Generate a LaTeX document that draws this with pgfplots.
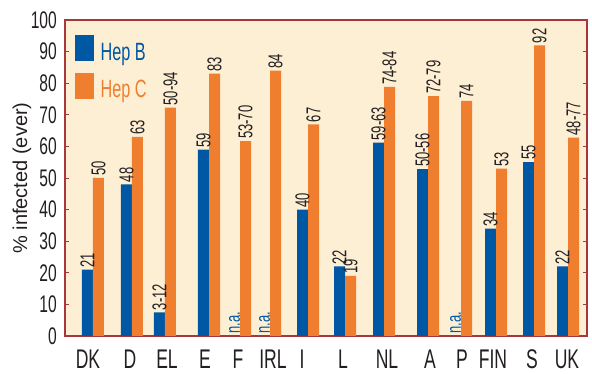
\documentclass[border=0pt]{standalone}
\usepackage{fontspec}
\setmainfont{Liberation Sans}
\newfontfamily\cond{Liberation Sans}[FakeStretch=0.65]
\usepackage{pgfplots}
\pgfplotsset{compat=1.18}
\definecolor{hepb}{RGB}{0,87,163}
\definecolor{hepc}{RGB}{240,126,47}
\definecolor{cream}{RGB}{253,239,212}
\definecolor{border}{RGB}{166,55,59}
\definecolor{txt}{RGB}{35,31,32}
\begin{document}
\begin{tikzpicture}
\begin{axis}[
  at={(0,0)}, anchor=south west,
  scale only axis, width=522pt, height=316pt,
  xmin=65, xmax=587, ymin=0, ymax=100,
  axis background/.style={fill=cream},
  axis line style={draw=border, line width=1.6pt},
  xtick={88,130,167,205,238,273,302,343,387,430,462,493,532,567},
  xticklabels={DK,D,EL,E,F,IRL,I,L,NL,A,P,FIN,S,UK},
  xtick style={draw=none},
  xticklabel style={anchor=base, inner sep=0pt, yshift=-33pt, font=\cond\fontsize{27}{27}\selectfont, text=txt},
  ytick={0,10,...,100},
  yticklabel style={anchor=east, inner sep=0pt, xshift=-8pt, font=\cond\fontsize{24}{24}\selectfont, text=txt},
  /pgf/number format/assume math mode=true,
  tick align=inside, major tick length=4pt,
  ytick style={draw=border, line width=0.8pt},
  ylabel={\% infected (ever)},
  every axis y label/.style={at={(axis description cs:-0.0824,0.5)}, rotate=90, anchor=center, font=\fontsize{20}{20}\selectfont, text=txt},
  legend style={at={(rel axis cs:0,1)}, anchor=north west, xshift=10pt, yshift=-15pt, draw=none, fill=none, inner sep=0pt, row sep=11pt, column sep=7pt, nodes={inner sep=0pt}, font=\cond\fontsize{25}{25}\selectfont},
  legend cell align=left,
]
\addlegendimage{legend image code/.code={\fill[hepb] (0pt,-8pt) rectangle (18pt,17pt);}}
\addlegendentry{\textcolor{hepb}{Hep B}}
\addlegendimage{legend image code/.code={\fill[hepc] (0pt,-8pt) rectangle (18pt,17pt);}}
\addlegendentry{\textcolor{hepc}{Hep C}}
\addplot[ybar, bar width=11pt, bar shift=-5.5pt, fill=hepb, draw=none, forget plot, nodes near coords, point meta=explicit symbolic,
  nodes near coords style={xshift=-5.5pt, rotate=90, anchor=west, inner sep=2pt, font=\cond\fontsize{20}{20}\selectfont, text=txt}]
coordinates {(93,21)[21] (132,48)[48] (165,7.5)[3-12] (209,59)[59] (308,40)[40] (345,22)[22] (384,61.2)[59-63] (428,52.8)[50-56] (496,34)[34] (534,55)[55] (568,22)[22]};
\addplot[ybar, bar width=11pt, bar shift=5.5pt, fill=hepc, draw=none, forget plot, nodes near coords, point meta=explicit symbolic,
  nodes near coords style={xshift=5.5pt, rotate=90, anchor=west, inner sep=2pt, font=\cond\fontsize{20}{20}\selectfont, text=txt}]
coordinates {(93,50)[50] (132,63)[63] (165,72.3)[50-94] (209,83)[83] (240,61.7)[53-70] (270,84)[84] (308,67)[67] (345,19)[19] (384,78.8)[74-84] (428,75.9)[72-79] (461,74.4)[74] (496,53)[53] (534,92)[92] (568,62.8)[48-77]};
\addplot[ybar, bar width=11pt, bar shift=-5.5pt, fill=none, draw=none, forget plot, nodes near coords, point meta=explicit symbolic,
  nodes near coords style={xshift=-5.5pt, rotate=90, anchor=west, inner sep=2pt, font=\cond\fontsize{20}{20}\selectfont, text=hepb}]
coordinates {(240,0)[n.a.] (270,0)[n.a.] (461,0)[n.a.]};
\end{axis}
\pgfresetboundingbox
\path (-65pt,-38pt) rectangle (527pt,336pt);
\end{tikzpicture}
\end{document}
